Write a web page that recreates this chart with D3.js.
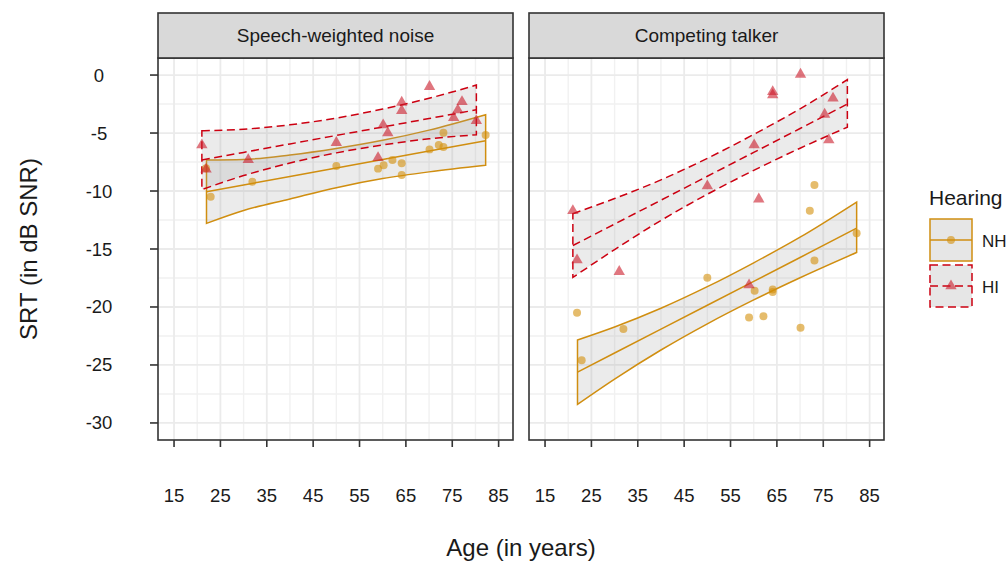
<!DOCTYPE html>
<html>
<head>
<meta charset="utf-8">
<script src="https://cdn.jsdelivr.net/npm/d3@7"></script>
<style>
  body { margin: 0; background: #fff; }
  text { font-family: "Liberation Sans", Arial, sans-serif; fill: #1a1a1a; }
</style>
</head>
<body>
<div id="chart"></div>
<script>
// facets and axis ticks
const facets = ["Speech-weighted noise", "Competing talker"];
const xTicks = [15, 25, 35, 45, 55, 65, 75, 85];
const yTicks = [0, -5, -10, -15, -20, -25, -30];
const groups = ["NH", "HI"];

// normal hearing listeners (circles)
const nhAge    = [21.9, 22.9, 31.9, 50.0, 59.0, 60.2, 62.1, 64.1, 64.1, 70.1, 72.1, 73.1, 73.1, 82.2];
const nhSwn    = [-8.04, -10.5, -9.2, -7.84, -8.07, -7.77, -7.33, -7.61, -8.62, -6.41, -6.03, -6.2, -4.97, -5.17];
const nhTalker = [-20.5, -24.6, -21.9, -17.47, -20.9, -18.6, -20.8, -18.5, -18.7, -21.8, -11.7, -9.48, -16.0, -13.65];

// hearing impaired listeners (triangles)
const hiAge    = [21.0, 21.9, 31.0, 50.0, 59.0, 60.1, 61.1, 64.1, 64.1, 70.1, 75.3, 76.2, 77.1, 80.2];
const hiSwn    = [-6.03, -8.13, -7.3, -5.83, -7.13, -4.31, -5.0, -2.36, -3.07, -1.0, -3.68, -3.02, -2.3, -3.94];
const hiTalker = [-11.7, -15.95, -16.95, -9.57, -18.1, -6.03, -10.7, -1.44, -1.72, 0.06, -3.39, -5.6, -2.0, null];

// regression fits with confidence bands
const nhBandAge = [22, 30, 40, 50, 60, 70, 82.2];
const nhSwnFit  = [-10.06, -9.48, -8.74, -8.01, -7.28, -6.55, -5.67];
const nhSwnLow  = [-12.79, -11.68, -10.69, -9.71, -8.93, -8.35, -7.78];
const nhSwnHigh = [-7.33, -7.28, -6.89, -6.33, -5.63, -4.75, -3.42];
const nhTalkerFit  = [-25.62, -23.97, -21.91, -19.85, -17.79, -15.73, -13.2];
const nhTalkerLow  = [-28.4, -26.22, -23.71, -21.45, -19.39, -17.48, -15.3];
const nhTalkerHigh = [-22.84, -21.72, -20.11, -18.25, -16.19, -13.98, -10.95];

const hiBandAge = [21, 30, 40, 50, 60, 70, 80.2];
const hiSwnFit  = [-7.33, -6.67, -5.94, -5.21, -4.48, -3.75, -3.0];
const hiSwnLow  = [-9.88, -8.67, -7.59, -6.71, -6.03, -5.5, -5.15];
const hiSwnHigh = [-4.8, -4.67, -4.29, -3.71, -2.93, -2.0, -0.86];
const hiTalkerFit  = [-14.7, -12.85, -10.79, -8.73, -6.67, -4.61, -2.5];
const hiTalkerLow  = [-17.45, -15.05, -12.54, -10.28, -8.22, -6.31, -4.5];
const hiTalkerHigh = [-11.95, -10.65, -9.04, -7.18, -5.12, -2.91, -0.4];

const width = 1008;
const height = 563;

const colors = { NH: "#d08e10", HI: "#cc0011" };
const pointFill = { NH: "#d4900a", HI: "#cc1a2a" };
const dash = { NH: null, HI: "8,4.5" };

const panelLeft = [158, 529];
const panelW = 355;
const panelTop = 58, panelBottom = 440;
const stripTop = 13;

const svg = d3.select("#chart")
  .append("svg")
  .attr("width", width)
  .attr("height", height);

const y = d3.scaleLinear().domain([-31.47, 1.47]).range([panelBottom, panelTop]);

const bands = [
  {
    NH: { age: nhBandAge, fit: nhSwnFit, low: nhSwnLow, high: nhSwnHigh },
    HI: { age: hiBandAge, fit: hiSwnFit, low: hiSwnLow, high: hiSwnHigh },
    points: { NH: nhSwn, HI: hiSwn }
  },
  {
    NH: { age: nhBandAge, fit: nhTalkerFit, low: nhTalkerLow, high: nhTalkerHigh },
    HI: { age: hiBandAge, fit: hiTalkerFit, low: hiTalkerLow, high: hiTalkerHigh },
    points: { NH: nhTalker, HI: hiTalker }
  }
];
const ages = { NH: nhAge, HI: hiAge };

facets.forEach((name, idx) => {
  const x0 = panelLeft[idx];
  const x = d3.scaleLinear().domain([11.54, 88.1]).range([x0, x0 + panelW]);
  const g = svg.append("g");

  // grid: minor first, then major
  const xMinor = d3.range(20, 85, 10);
  const yMinor = d3.range(-27.5, 0, 5);
  g.selectAll(".xminor").data(xMinor).enter().append("line")
    .attr("x1", d => x(d)).attr("x2", d => x(d))
    .attr("y1", panelTop).attr("y2", panelBottom)
    .attr("stroke", "#f1f1f1").attr("stroke-width", 1.4);
  g.selectAll(".yminor").data(yMinor).enter().append("line")
    .attr("x1", x0).attr("x2", x0 + panelW)
    .attr("y1", d => y(d)).attr("y2", d => y(d))
    .attr("stroke", "#f1f1f1").attr("stroke-width", 1.4);
  g.selectAll(".xmajor").data(xTicks).enter().append("line")
    .attr("x1", d => x(d)).attr("x2", d => x(d))
    .attr("y1", panelTop).attr("y2", panelBottom)
    .attr("stroke", "#ebebeb").attr("stroke-width", 1.8);
  g.selectAll(".ymajor").data(yTicks).enter().append("line")
    .attr("x1", x0).attr("x2", x0 + panelW)
    .attr("y1", d => y(d)).attr("y2", d => y(d))
    .attr("stroke", "#ebebeb").attr("stroke-width", 1.8);

  // ribbons
  groups.forEach(grp => {
    const b = bands[idx][grp];
    const rows = b.age.map((a, i) => ({ a, fit: b.fit[i], low: b.low[i], high: b.high[i] }));
    const area = d3.area()
      .x(d => x(d.a)).y0(d => y(d.low)).y1(d => y(d.high))
      .curve(d3.curveMonotoneX);
    g.append("path")
      .attr("d", area(rows))
      .attr("fill", "#9a9a9a").attr("fill-opacity", 0.2)
      .attr("stroke", colors[grp]).attr("stroke-width", 1.5)
      .attr("stroke-dasharray", dash[grp]);
  });

  // fit lines
  groups.forEach(grp => {
    const b = bands[idx][grp];
    const rows = b.age.map((a, i) => ({ a, fit: b.fit[i] }));
    const line = d3.line().x(d => x(d.a)).y(d => y(d.fit));
    g.append("path")
      .attr("d", line(rows))
      .attr("fill", "none")
      .attr("stroke", colors[grp]).attr("stroke-width", 1.5)
      .attr("stroke-dasharray", dash[grp]);
  });

  // points
  groups.forEach(grp => {
    const vals = bands[idx].points[grp];
    const rows = ages[grp].map((a, i) => ({ a, v: vals[i] })).filter(d => d.v !== null);
    const sym = d3.symbol().type(grp === "NH" ? d3.symbolCircle : d3.symbolTriangle).size(grp === "NH" ? 50 : 56);
    g.selectAll(".pt" + grp).data(rows).enter().append("path")
      .attr("d", sym)
      .attr("transform", d => "translate(" + x(d.a) + "," + y(d.v) + ")")
      .attr("fill", pointFill[grp]).attr("fill-opacity", 0.6);
  });

  // panel border
  g.append("rect")
    .attr("x", x0).attr("y", panelTop)
    .attr("width", panelW).attr("height", panelBottom - panelTop)
    .attr("fill", "none").attr("stroke", "#333").attr("stroke-width", 1.6);

  // strip
  g.append("rect")
    .attr("x", x0).attr("y", stripTop)
    .attr("width", panelW).attr("height", panelTop - stripTop)
    .attr("fill", "#d9d9d9").attr("stroke", "#333").attr("stroke-width", 1.6);
  g.append("text")
    .attr("x", x0 + panelW / 2).attr("y", 42)
    .attr("text-anchor", "middle")
    .style("font-size", "19px")
    .text(name);

  // x ticks
  g.selectAll(".xtick").data(xTicks).enter().append("line")
    .attr("x1", d => x(d)).attr("x2", d => x(d))
    .attr("y1", panelBottom).attr("y2", panelBottom + 7)
    .attr("stroke", "#333").attr("stroke-width", 1.6);
  g.selectAll(".xlab").data(xTicks).enter().append("text")
    .attr("x", d => x(d)).attr("y", 502)
    .attr("text-anchor", "middle")
    .style("font-size", "18.5px")
    .text(d => d);

  if (idx === 0) {
    g.selectAll(".ytick").data(yTicks).enter().append("line")
      .attr("x1", x0 - 8).attr("x2", x0)
      .attr("y1", d => y(d)).attr("y2", d => y(d))
      .attr("stroke", "#333").attr("stroke-width", 1.6);
    g.selectAll(".ylab").data(yTicks).enter().append("text")
      .attr("x", 99).attr("y", d => y(d) + 6.5)
      .attr("text-anchor", "middle")
      .style("font-size", "18.5px")
      .text(d => d);
  }
});

// axis titles
svg.append("text")
  .attr("x", 521).attr("y", 556)
  .attr("text-anchor", "middle")
  .style("font-size", "24px")
  .text("Age (in years)");
svg.append("text")
  .attr("transform", "translate(37," + ((panelTop + panelBottom) / 2) + ") rotate(-90)")
  .attr("text-anchor", "middle")
  .style("font-size", "24px")
  .text("SRT (in dB SNR)");

// legend
const legend = svg.append("g").attr("transform", "translate(929,0)");
legend.append("text")
  .attr("x", 0).attr("y", 205)
  .style("font-size", "21px")
  .text("Hearing");
groups.forEach((grp, i) => {
  const top = 219 + i * 46;
  legend.append("rect")
    .attr("x", 1).attr("y", top)
    .attr("width", 42).attr("height", 42)
    .attr("fill", "#e6e6e6")
    .attr("stroke", colors[grp]).attr("stroke-width", 1.5)
    .attr("stroke-dasharray", dash[grp]);
  legend.append("line")
    .attr("x1", 1).attr("x2", 43)
    .attr("y1", top + 21).attr("y2", top + 21)
    .attr("stroke", colors[grp]).attr("stroke-width", 1.5)
    .attr("stroke-dasharray", dash[grp]);
  const sym = d3.symbol().type(grp === "NH" ? d3.symbolCircle : d3.symbolTriangle).size(grp === "NH" ? 50 : 56);
  legend.append("path")
    .attr("d", sym)
    .attr("transform", "translate(22," + (top + 21) + ")")
    .attr("fill", pointFill[grp]).attr("fill-opacity", 0.6);
  legend.append("text")
    .attr("x", 53).attr("y", top + 28)
    .style("font-size", "17px")
    .text(grp);
});
</script>
</body>
</html>
